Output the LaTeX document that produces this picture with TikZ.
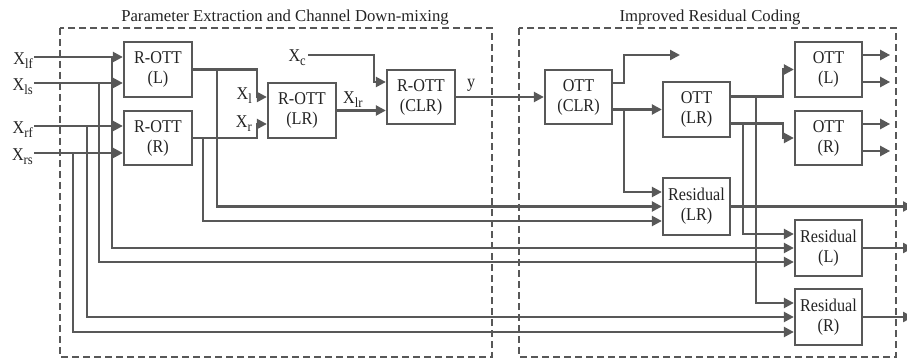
\documentclass[tikz,border=0pt]{standalone}
\usepackage{fontspec}
\setmainfont{Liberation Serif}[FakeStretch=0.9]
\newfontfamily\titlefont{Liberation Serif}
\usetikzlibrary{arrows.meta}
\definecolor{ln}{RGB}{88,88,88}
\definecolor{tx}{RGB}{35,35,35}
\newcommand\xsub[1]{X\raisebox{-3.5pt}{\fontsize{14}{14}\selectfont #1}}
\begin{document}
\begin{tikzpicture}[x=1pt,y=-1pt,
  font=\fontsize{18}{20}\selectfont, text=tx,
  box/.style={draw=ln, line width=2.3pt, minimum width=68pt, minimum height=55pt, inner sep=0pt, align=center},
  conn/.style={draw=ln, line width=2.3pt},
  arr/.style={conn, -{Triangle[length=10pt,width=10pt]}},
  zone/.style={draw=ln, line width=2.2pt, dash pattern=on 7pt off 4pt},
  lab/.style={inner sep=0pt},
  ttl/.style={inner sep=0pt, anchor=base, font=\titlefont\fontsize{16.7}{18}\selectfont}]
\useasboundingbox (0,0) rectangle (907,358);

% regions
\draw[zone] (60,28) rectangle (492,357);
\draw[zone] (519,28) rectangle (896,357);
\node[ttl] (t1) at (285,22) {Parameter Extraction and Channel Down-mixing};
\node[ttl] (t2) at (710,22) {Improved Residual Coding};

% boxes
\node[box] (rottL) at (158,69.5) {R-OTT\\(L)};
\node[box, minimum height=54pt] (rottR) at (158,138) {R-OTT\\(R)};
\node[box] (rottLR) at (302,110.5) {R-OTT\\(LR)};
\node[box, minimum height=54pt] (rottCLR) at (421,97) {R-OTT\\(CLR)};
\node[box, minimum width=67pt, minimum height=54pt] (ottCLR) at (578.5,97) {OTT\\(CLR)};
\node[box, minimum width=67pt] (ottLR) at (696.5,109.5) {OTT\\(LR)};
\node[box, minimum width=67pt] (ottL) at (828.5,69.5) {OTT\\(L)};
\node[box, minimum width=67pt, minimum height=54pt] (ottR) at (828.5,138) {OTT\\(R)};
\node[box, minimum width=67pt, minimum height=57pt] (resLR) at (696.5,206.5) {Residual\\(LR)};
\node[box, minimum width=67pt, minimum height=56pt] (resL) at (828.5,248) {Residual\\(L)};
\node[box, minimum width=67pt, minimum height=56pt] (resR) at (828.5,317) {Residual\\(R)};

% inputs
\coordinate (ilf) at (34,57);
\coordinate (ils) at (34,83);
\coordinate (irf) at (34,126);
\coordinate (irs) at (34,153);
\node[lab, anchor=base east] (xlf) at (33,65) {\xsub{lf}};
\node[lab, anchor=base east] (xls) at (33,91) {\xsub{ls}};
\node[lab, anchor=base east] (xrf) at (33,134) {\xsub{rf}};
\node[lab, anchor=base east] (xrs) at (33,161) {\xsub{rs}};
\draw[arr] (ilf) -- (rottL.west |- ilf);
\draw[arr] (ils) -- (rottL.west |- ils);
\draw[arr] (irf) -- (rottR.west |- irf);
\draw[arr] (irs) -- (rottR.west |- irs);

% input branches to residual coders
\draw[arr] (112,57) |- (resL.west);
\draw[arr] (99,83) |- ([yshift=-14pt]resL.west);
\draw[arr] (87,126) |- (resR.west);
\draw[arr] (73,153) |- ([yshift=-15pt]resR.west);

% R-OTT (L) / (R) outputs
\draw[arr] (rottL.east) -| (257,97) -- ([yshift=13.5pt]rottLR.west);
\draw[arr] (rottR.east) -| (257,124) -- ([yshift=-13.5pt]rottLR.west);
\draw[arr] (217,69.5) |- (resLR.west);
\draw[arr] (203,138) |- ([yshift=-14.5pt]resLR.west);
\node[lab, anchor=base east] (xl) at (252,100) {\xsub{l}};
\node[lab, anchor=base east] (xr) at (252,128) {\xsub{r}};

% R-OTT (LR) -> R-OTT (CLR)
\draw[arr] (rottLR.east) -- (rottCLR.west |- rottLR.east);
\node[lab, anchor=base west] (xlr) at (343,104) {\xsub{lr}};
\coordinate (ic) at (308,55);
\node[lab, anchor=base east] (xc) at (306,62) {\xsub{c}};
\draw[arr] (ic) -| (374,82) -- ([yshift=15pt]rottCLR.west);

% y
\draw[arr] (rottCLR.east) -- (ottCLR.west);
\node[lab, anchor=base west] (ylab) at (467,88) {y};

% OTT (CLR) outputs
\coordinate (fc) at (680,55);
\draw[arr] ([yshift=14pt]ottCLR.east) -| (624,55) -- (fc);
\draw[arr] (ottLR.west -| ottCLR.east) -- (ottLR.west);
\draw[arr] (624,109.5) |- ([yshift=14.5pt]resLR.west);

% OTT (LR) outputs
\draw[arr] ([yshift=13pt]ottLR.east) -| (783,69.5) -- (ottL.west);
\draw[arr] ([yshift=-14pt]ottLR.east) -| (783,138) -- (ottR.west);
\draw[arr] (756,96.5) |- ([yshift=14pt]resR.west);
\draw[arr] (743,123.5) |- ([yshift=14pt]resL.west);

% OTT (L)/(R) outputs
\draw[arr] ([yshift=14.5pt]ottL.east) -- ++(27,0);
\draw[arr] ([yshift=-12.5pt]ottL.east) -- ++(27,0);
\draw[arr] ([yshift=14pt]ottR.east) -- ++(27,0);
\draw[arr] ([yshift=-13pt]ottR.east) -- ++(27,0);

% residual outputs
\draw[arr] (resLR.east) -- (913,206.5);
\draw[arr] (resL.east) -- (913,248);
\draw[arr] (resR.east) -- (913,317);
\end{tikzpicture}
\end{document}
